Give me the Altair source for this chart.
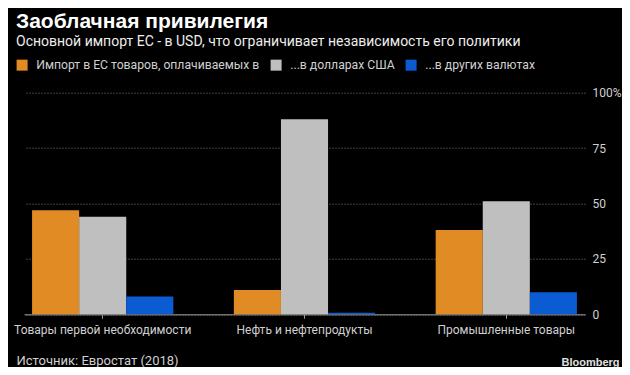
import altair as alt
import pandas as pd

categories = ["Товары первой необходимости", "Нефть и нефтепродукты", "Промышленные товары"]
series = ["Импорт в ЕС товаров, оплачиваемых в", "...в долларах США", "...в других валютах"]
values = {
    series[0]: [47, 11, 38],
    series[1]: [44, 88, 51],
    series[2]: [8, 0.7, 10],
}
colors = ["#E08B24", "#BFBFBF", "#0B5BD2"]
y_ticks = [0, 25, 50, 75, 100]

rows = []
for s in series:
    for c, v in zip(categories, values[s]):
        rows.append({"cat": c, "series": s, "value": v})
df = pd.DataFrame(rows)

FONT = "Roboto"

chart = alt.Chart(df).mark_bar().encode(
    x=alt.X("cat:N", sort=categories,
            scale=alt.Scale(paddingInner=0.3, paddingOuter=0.04),
            axis=alt.Axis(title="Источник: Евростат (2018)", labelAngle=0, labelFont=FONT,
                          labelFontSize=12, labelColor="#D0D0D0", labelPadding=6,
                          ticks=True, tickSize=4, tickColor="#999999", domainColor="#999999",
                          labelLimit=300, grid=False,
                          titleFont=FONT, titleFontSize=13, titleFontWeight="normal",
                          titleColor="#D0D0D0", titleAlign="left", titleBaseline="alphabetic",
                          titleX=-8, titleY=49.7)),
    xOffset=alt.XOffset("series:N", sort=series, scale=alt.Scale(paddingInner=0, paddingOuter=0)),
    y=alt.Y("value:Q", scale=alt.Scale(domain=[0, 100], nice=False),
            axis=alt.Axis(orient="right", values=y_ticks,
                          labelExpr="datum.value == 100 ? '100%' : datum.label",
                          labelFont=FONT, labelFontSize=12, labelColor="#D0D0D0",
                          labelPadding=7, ticks=False, domain=False,
                          grid=True, gridColor="#808080", gridDash=[1, 2], gridWidth=1,
                          title="Bloomberg", titleAngle=0, titleFont="Liberation Sans",
                          titleFontSize=11, titleFontWeight="bold", titleColor="#E0E0E0",
                          titleAlign="right", titleBaseline="alphabetic",
                          titleX=34, titleY=272.3)),
    color=alt.Color("series:N", sort=series,
                    scale=alt.Scale(domain=series, range=colors),
                    legend=alt.Legend(title=None, orient="none", direction="horizontal",
                                      legendX=-8, legendY=-34, symbolType="square",
                                      symbolSize=121, symbolStrokeWidth=0,
                                      labelFont=FONT, labelFontSize=12.2, labelColor="#D0D0D0",
                                      labelOffset=8, columnPadding=10, labelLimit=400)),
).properties(
    width=561,
    height=221.6,
    autosize=alt.AutoSizeParams(type="none"),
    padding={"left": 16, "top": 84.7, "right": 37, "bottom": 52.7},
    title=alt.TitleParams(
        text="Заоблачная привилегия",
        subtitle="Основной импорт ЕС - в USD, что ограничивает независимость его политики",
        anchor="start", frame="group", dx=-8, offset=10,
        font="Liberation Sans", fontSize=21, fontWeight="bold", color="#FFFFFF",
        subtitleFont=FONT, subtitleFontSize=14, subtitleColor="#EDEDED", subtitlePadding=3,
    ),
).configure(background="#000000").configure_view(stroke=None)

chart.save("out.html", embed_options={"renderer": "svg", "actions": False})
